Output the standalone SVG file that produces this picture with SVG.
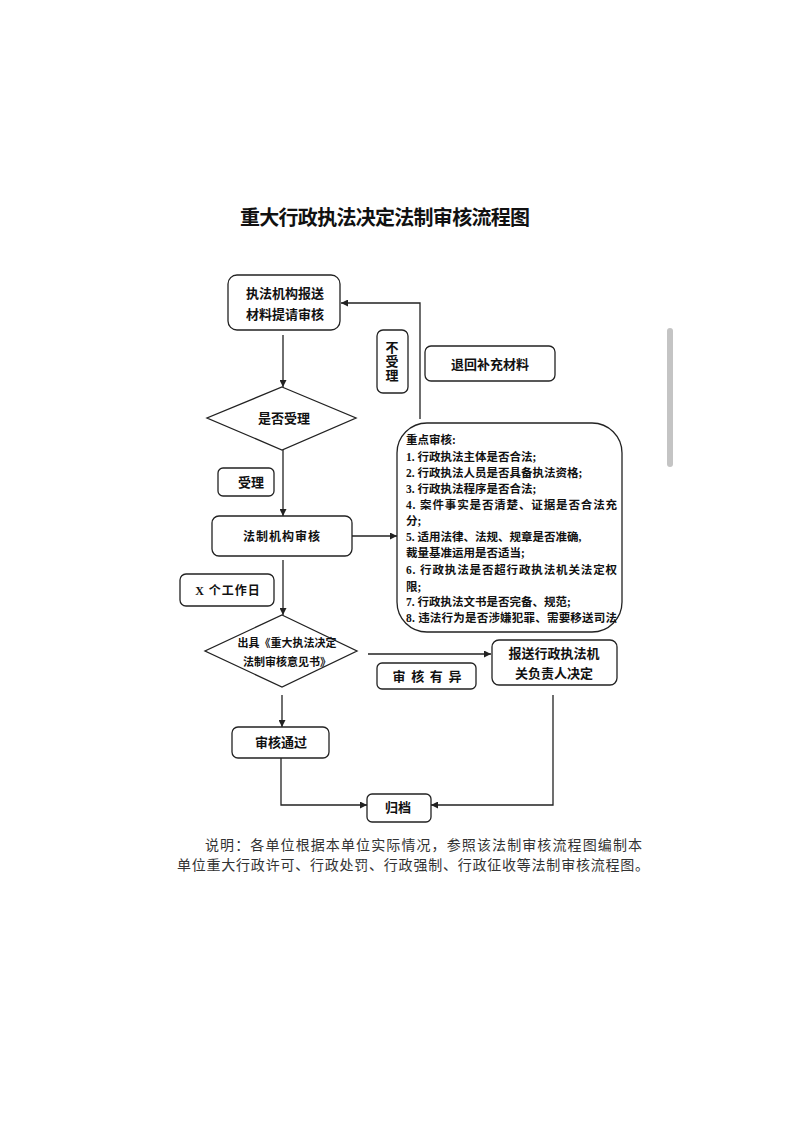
<svg xmlns="http://www.w3.org/2000/svg" width="793" height="1122" viewBox="0 0 793 1122">
<style>
.box{fill:#fff;stroke:#222;stroke-width:1.3}
.ln{fill:none;stroke:#222;stroke-width:1.3}
.t{font-family:"Liberation Serif","Noto Sans CJK SC",serif;font-size:13px;font-weight:bold;fill:#111;text-anchor:middle}
.s{font-family:"Liberation Serif","Noto Sans CJK SC",serif;font-size:11.5px;font-weight:bold;fill:#111}
.n{font-family:"Liberation Serif","Noto Sans CJK SC",serif;font-size:14px;fill:#333}
</style>
<defs>
<marker id="ar" viewBox="0 0 10 10" refX="10" refY="5" markerWidth="7" markerHeight="7" markerUnits="userSpaceOnUse" orient="auto">
<path d="M0,0 L10,5 L0,10 z" fill="#222"/>
</marker>
</defs>
<rect width="793" height="1122" fill="#fff"/>
<text x="385" y="225" style="font-family:'Liberation Serif','Noto Sans CJK SC',serif;font-size:20px;font-weight:bold;fill:#111;text-anchor:middle" textLength="290">重大行政执法决定法制审核流程图</text>
<rect x="667" y="328" width="6" height="139" rx="3" fill="#c4c4c4"/>
<g id="connectors">
<path class="ln" d="M283,335 V387" marker-end="url(#ar)"/>
<path class="ln" d="M420,419 V303 H341" marker-end="url(#ar)"/>
<path class="ln" d="M283,450 V516" marker-end="url(#ar)"/>
<path class="ln" d="M352,536 H397" marker-end="url(#ar)"/>
<path class="ln" d="M283,560 V615" marker-end="url(#ar)"/>
<path class="ln" d="M368,654 H491" marker-end="url(#ar)"/>
<path class="ln" d="M282,695 V727" marker-end="url(#ar)"/>
<path class="ln" d="M281,758 V805 H367" marker-end="url(#ar)"/>
<path class="ln" d="M553,695 V805 H431" marker-end="url(#ar)"/>
</g>
<g id="n_submit">
<rect class="box" x="228" y="275" width="112" height="55" rx="9"/>
<text class="t" x="285" y="298">执法机构报送</text>
<text class="t" x="285" y="319">材料提请审核</text>
</g>
<g id="n_accept_q">
<polygon class="box" points="282,387 356,418 282,450 207,418"/>
<text class="t" x="284" y="423">是否受理</text>
</g>
<g id="l_reject">
<rect class="box" x="377" y="330" width="31" height="63" rx="6"/>
<text class="t" x="392" y="352">不</text>
<text class="t" x="392" y="366">受</text>
<text class="t" x="392" y="380">理</text>
</g>
<g id="l_return">
<rect class="box" x="425" y="346" width="130" height="35" rx="6"/>
<text class="t" x="490" y="369">退回补充材料</text>
</g>
<g id="l_accept">
<rect class="box" x="218" y="468" width="56" height="28" rx="5"/>
<text class="t" x="251" y="487">受理</text>
</g>
<g id="n_review">
<rect class="box" x="212" y="516" width="140" height="40" rx="7"/>
<text class="t" x="282" y="541" style="font-size:12px;letter-spacing:1px">法制机构审核</text>
</g>
<g id="n_keypoints">
<rect class="box" x="397" y="423" width="225" height="209" rx="30"/>
<text class="s" x="406" y="444">重点审核:</text>
<text class="s" x="406" y="461">1. 行政执法主体是否合法;</text>
<text class="s" x="406" y="477">2. 行政执法人员是否具备执法资格;</text>
<text class="s" x="406" y="493">3.  行政执法程序是否合法;</text>
<text class="s" x="406" y="509" textLength="211">4.  案件事实是否清楚、证据是否合法充</text>
<text class="s" x="406" y="525">分;</text>
<text class="s" x="406" y="541">5.  适用法律、法规、规章是否准确,</text>
<text class="s" x="406" y="557">裁量基准运用是否适当;</text>
<text class="s" x="406" y="574" textLength="211">6. 行政执法是否超行政执法机关法定权</text>
<text class="s" x="406" y="591">限;</text>
<text class="s" x="406" y="606">7. 行政执法文书是否完备、规范;</text>
<text class="s" x="406" y="622" textLength="211">8. 违法行为是否涉嫌犯罪、需要移送司法</text>
</g>
<g id="l_days">
<rect class="box" x="180" y="574" width="94" height="32" rx="6"/>
<text class="t" x="228" y="595" style="font-size:12px;letter-spacing:1px">X 个工作日</text>
</g>
<g id="n_opinion">
<polygon class="box" points="282,615 357,651 282,687 205,651"/>
<text class="t" x="287" y="647" style="font-size:11px">出具《重大执法决定</text>
<text class="t" x="287" y="666" style="font-size:11px">法制审核意见书》</text>
</g>
<g id="n_report">
<rect class="box" x="492" y="640" width="125" height="45" rx="7"/>
<text class="t" x="554" y="658">报送行政执法机</text>
<text class="t" x="554" y="678">关负责人决定</text>
</g>
<g id="l_diff">
<rect class="box" x="377" y="663" width="99" height="26" rx="5"/>
<text class="t" x="427" y="681" textLength="69">审核有异</text>
</g>
<g id="n_pass">
<rect class="box" x="232" y="727" width="97" height="31" rx="6"/>
<text class="t" x="281" y="747">审核通过</text>
</g>
<g id="n_archive">
<rect class="box" x="367" y="794" width="64" height="28" rx="5"/>
<text class="t" x="398" y="812">归档</text>
</g>
<text class="n" x="205" y="850" textLength="437">说明：各单位根据本单位实际情况，参照该法制审核流程图编制本</text>
<text class="n" x="177" y="870" textLength="472">单位重大行政许可、行政处罚、行政强制、行政征收等法制审核流程图。</text>
</svg>
